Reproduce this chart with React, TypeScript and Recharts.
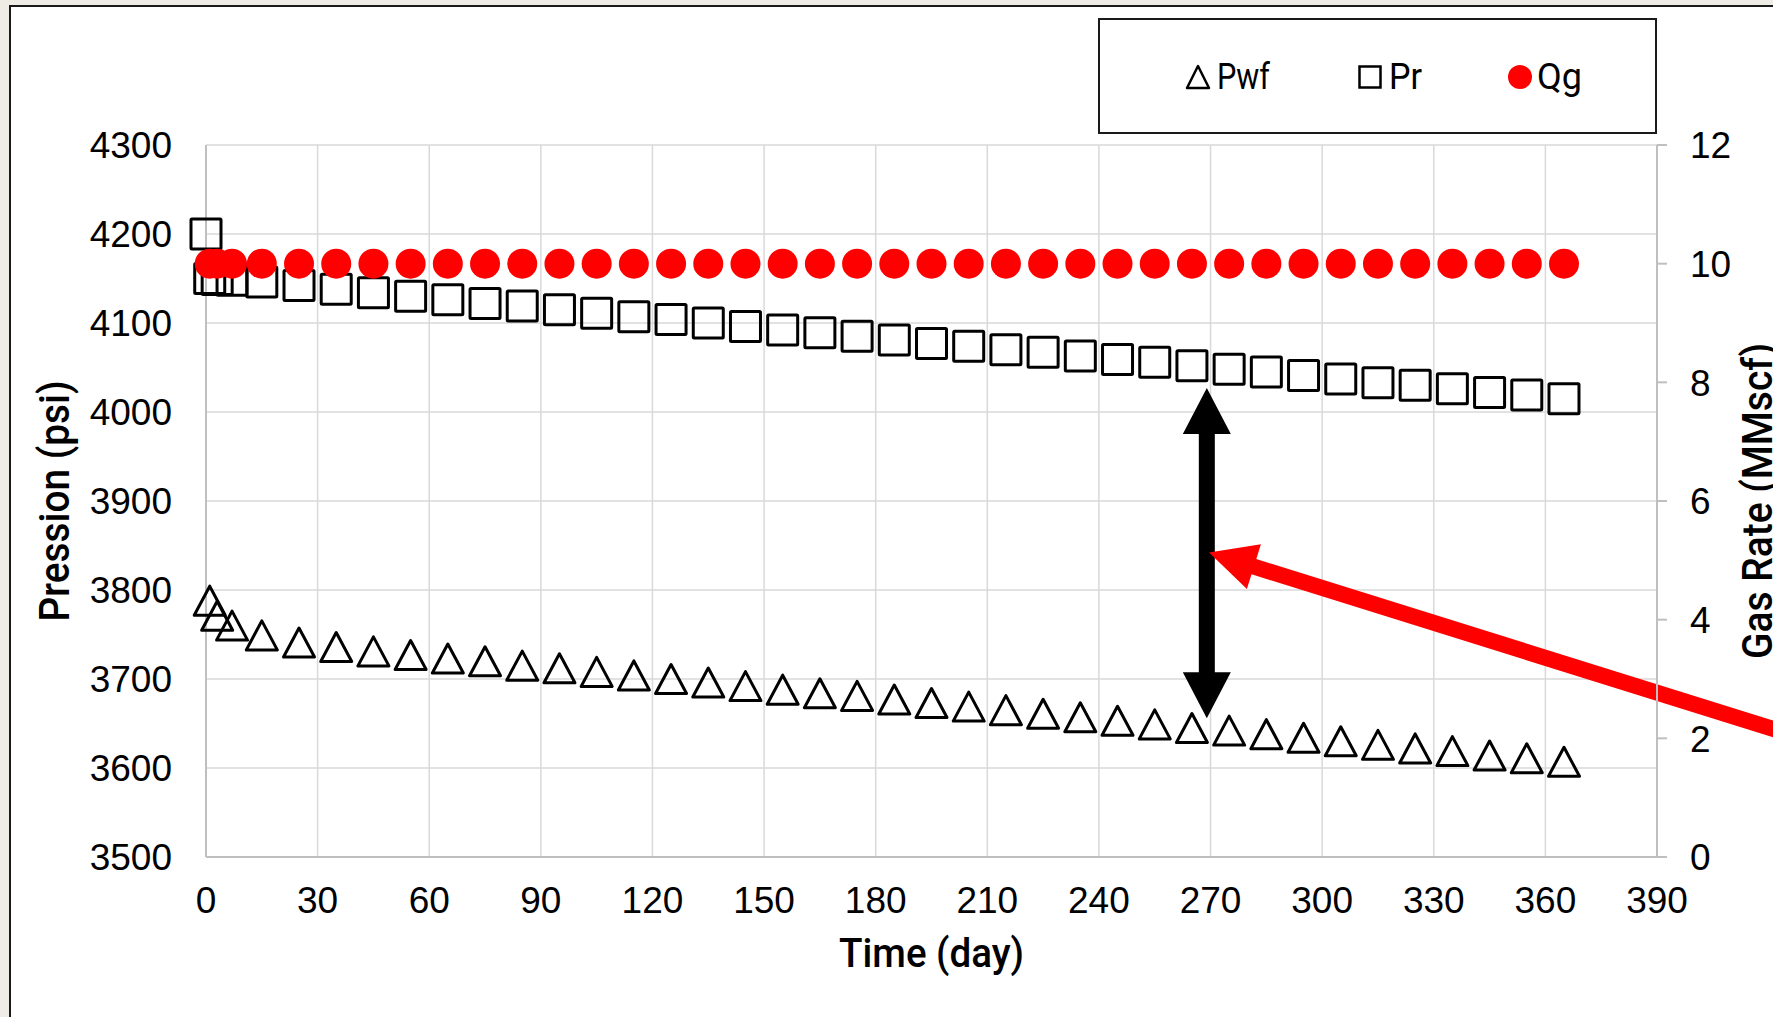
import React from "react";
import { ScatterChart, Scatter, XAxis, YAxis, CartesianGrid, ReferenceLine, Legend } from "recharts";

// time steps (day)
const days = [0, 1, 3, 7, 15, 25, 35, 45, 55, 65, 75, 85, 95, 105, 115, 125, 135, 145, 155, 165, 175, 185, 195, 205, 215, 225, 235, 245, 255, 265, 275, 285, 295, 305, 315, 325, 335, 345, 355, 365];

// bottom-hole flowing pressure (psi)
const pwf = [null, 3788, 3771, 3760, 3749, 3741, 3736, 3731, 3727, 3723, 3720, 3715, 3712, 3708, 3704, 3700, 3696, 3692, 3688, 3684, 3681, 3677, 3673, 3669, 3665, 3661, 3657, 3653, 3649, 3645, 3642, 3638, 3634, 3630, 3626, 3622, 3619, 3614, 3611, 3607];

// reservoir pressure (psi)
const pr = [4200, 4150, 4149, 4148, 4146, 4142, 4138, 4134, 4130, 4126, 4122, 4119, 4115, 4111, 4107, 4104, 4100, 4096, 4092, 4089, 4085, 4081, 4077, 4074, 4070, 4067, 4063, 4059, 4056, 4052, 4048, 4045, 4041, 4037, 4033, 4030, 4026, 4022, 4019, 4015];

// gas rate (MMscf)
const qg = [null, 10, 10, 10, 10, 10, 10, 10, 10, 10, 10, 10, 10, 10, 10, 10, 10, 10, 10, 10, 10, 10, 10, 10, 10, 10, 10, 10, 10, 10, 10, 10, 10, 10, 10, 10, 10, 10, 10, 10];

const xTicks = [0, 30, 60, 90, 120, 150, 180, 210, 240, 270, 300, 330, 360, 390];
const pressureTicks = [3500, 3600, 3700, 3800, 3900, 4000, 4100, 4200, 4300];
const rateTicks = [0, 2, 4, 6, 8, 10, 12];

// annotation arrows, in axis units (day, psi)
const gapArrow = [{ x: 269, y: 4027 }, { x: 269, y: 3656 }];
const pointerArrow = [{ x: 428, y: 3635 }, { x: 269.6, y: 3842 }];

const toPoints = (vals: (number | null)[]) =>
  days.map((d, i) => ({ x: d, y: vals[i] })).filter((p) => p.y !== null);

const pwfData = toPoints(pwf);
const prData = toPoints(pr);
const qgData = toPoints(qg);

const tickFont = "'Liberation Sans', Arial, sans-serif";
const titleFont = "Roboto, 'Liberation Sans', sans-serif";
const axisStroke = { stroke: "#bfbfbf", strokeWidth: 2 };

const Triangle = (props: any) => {
  const { cx, cy } = props;
  return (
    <path
      d={`M${cx},${cy - 14.5}L${cx + 15.5},${cy + 14.5}L${cx - 15.5},${cy + 14.5}Z`}
      fill="none"
      stroke="#000"
      strokeWidth={3}
      strokeLinejoin="round"
    />
  );
};

const Square = (props: any) => {
  const { cx, cy } = props;
  return <rect x={cx - 15} y={cy - 15} width={30} height={30} rx={1} fill="none" stroke="#000" strokeWidth={3} />;
};

const Dot = (props: any) => <circle cx={props.cx} cy={props.cy} r={15} fill="#ff0000" />;

function arrowPath(x1: number, y1: number, x2: number, y2: number, shaft: number, headW: number, headL: number, both: boolean) {
  const len = Math.hypot(x2 - x1, y2 - y1);
  const ux = (x2 - x1) / len;
  const uy = (y2 - y1) / len;
  const nx = -uy;
  const ny = ux;
  const p = (t: number, s: number) => `${x1 + ux * t + nx * s},${y1 + uy * t + ny * s}`;
  const pts: string[] = [];
  if (both) pts.push(p(0, 0), p(headL, -headW / 2), p(headL, -shaft / 2));
  else pts.push(p(0, -shaft / 2));
  pts.push(p(len - headL, -shaft / 2), p(len - headL, -headW / 2), p(len, 0), p(len - headL, headW / 2), p(len - headL, shaft / 2));
  if (both) pts.push(p(headL, shaft / 2), p(headL, headW / 2));
  else pts.push(p(0, shaft / 2));
  return "M" + pts.join("L") + "Z";
}

const LeftTick = ({ x, y, payload }: any) => (
  <text x={x} y={y} dy="0.36em" textAnchor="end" fontFamily={tickFont} fontSize={37} fill="#000">
    {payload.value}
  </text>
);

const RightTick = ({ x, y, payload }: any) => (
  <text x={x} y={y} dy="0.36em" textAnchor="start" fontFamily={tickFont} fontSize={37} fill="#000">
    {payload.value}
  </text>
);

const BottomTick = ({ x, y, payload }: any) => (
  <text x={x} y={y} dy="0.71em" textAnchor="middle" fontFamily={tickFont} fontSize={37} fill="#000">
    {payload.value}
  </text>
);

const LegendBox = () => (
  <svg width={560} height={116} style={{ display: "block" }}>
    <rect x={1} y={1} width={557} height={114} fill="#fff" stroke="#1a1a1a" strokeWidth={2} />
    <path d="M100,48L111,70L89,70Z" fill="none" stroke="#000" strokeWidth={2.5} strokeLinejoin="round" />
    <text x={119} y={71} fontFamily={titleFont} fontSize={36} textLength={53} lengthAdjust="spacingAndGlyphs">Pwf</text>
    <rect x={261.5} y={48.5} width={21} height={21} fill="none" stroke="#000" strokeWidth={2.5} />
    <text x={291} y={71} fontFamily={titleFont} fontSize={36} textLength={33} lengthAdjust="spacingAndGlyphs">Pr</text>
    <circle cx={422} cy={59} r={12} fill="#ff0000" />
    <text x={439} y={71} fontFamily={titleFont} fontSize={36} textLength={45} lengthAdjust="spacingAndGlyphs">Qg</text>
  </svg>
);

export default function App() {
  return (
    <div style={{ position: "absolute", left: 0, top: 0, width: 1773, height: 1017, background: "#efece6", overflow: "hidden" }}>
      <div
        style={{
          position: "absolute",
          left: 9,
          top: 5,
          width: 1800,
          height: 1100,
          background: "#fff",
          border: "2px solid #1a1a1a",
        }}
      />
      <div style={{ position: "absolute", left: 0, top: 0 }}>
        <ScatterChart width={1773} height={1017} margin={{ top: 145, right: 10, bottom: 10, left: 10 }}>
          <CartesianGrid yAxisId="left" stroke="#d9d9d9" strokeWidth={1.5} />
          <XAxis
            type="number"
            dataKey="x"
            domain={[0, 390]}
            ticks={xTicks}
            height={150}
            axisLine={axisStroke}
            tickLine={false}
            tickSize={0}
            tickMargin={30}
            tick={<BottomTick />}
            interval={0}
            label={(p: any) => (
              <text
                x={p.viewBox.x + p.viewBox.width / 2}
                y={p.viewBox.y + 110}
                textAnchor="middle"
                fontFamily={titleFont}
                fontWeight={500}
                fontSize={41}
                textLength={185}
                lengthAdjust="spacingAndGlyphs"
              >
                Time (day)
              </text>
            )}
          />
          <YAxis
            yAxisId="left"
            type="number"
            dataKey="y"
            domain={[3500, 4300]}
            ticks={pressureTicks}
            width={196}
            axisLine={axisStroke}
            tickLine={false}
            tickSize={0}
            tickMargin={34}
            tick={<LeftTick />}
            interval={0}
            label={(p: any) => {
              const cx = 69;
              const cy = p.viewBox.y + p.viewBox.height / 2;
              return (
                <text
                  x={cx}
                  y={cy}
                  transform={`rotate(-90, ${cx}, ${cy})`}
                  textAnchor="middle"
                  fontFamily={titleFont}
                  fontWeight={500}
                  fontSize={42}
                  textLength={241}
                  lengthAdjust="spacingAndGlyphs"
                >
                  Pression (psi)
                </text>
              );
            }}
          />
          <YAxis
            yAxisId="right"
            orientation="right"
            type="number"
            dataKey="y"
            domain={[0, 12]}
            ticks={rateTicks}
            width={106}
            axisLine={axisStroke}
            tickLine={axisStroke}
            tickSize={10}
            tickMargin={23}
            tick={<RightTick />}
            interval={0}
            label={(p: any) => {
              const cx = 1772;
              const cy = p.viewBox.y + p.viewBox.height / 2;
              return (
                <text
                  x={cx}
                  y={cy}
                  transform={`rotate(-90, ${cx}, ${cy})`}
                  textAnchor="middle"
                  fontFamily={titleFont}
                  fontWeight={500}
                  fontSize={42}
                  textLength={316}
                  lengthAdjust="spacingAndGlyphs"
                >
                  Gas Rate (MMscf)
                </text>
              );
            }}
          />
          <Legend
            layout="horizontal"
            verticalAlign="middle"
            align="center"
            wrapperStyle={{ left: 1098, top: 18, width: 560, height: 116 }}
            content={() => <LegendBox />}
          />
          <Scatter name="Pwf" yAxisId="left" data={pwfData} shape={Triangle} isAnimationActive={false} />
          <Scatter name="Pr" yAxisId="left" data={prData} shape={Square} isAnimationActive={false} />
          <Scatter name="Qg" yAxisId="right" data={qgData} shape={Dot} isAnimationActive={false} />
          <ReferenceLine
            yAxisId="left"
            segment={gapArrow}
            ifOverflow="visible"
            shape={(p: any) => <path d={arrowPath(p.x1, p.y1, p.x2, p.y2, 16, 48, 46, true)} fill="#000" />}
          />
          <ReferenceLine
            yAxisId="left"
            segment={pointerArrow}
            ifOverflow="visible"
            shape={(p: any) => <path d={arrowPath(p.x1, p.y1, p.x2, p.y2, 16, 47, 47, false)} fill="#ff0000" />}
          />
        </ScatterChart>
      </div>
    </div>
  );
}
